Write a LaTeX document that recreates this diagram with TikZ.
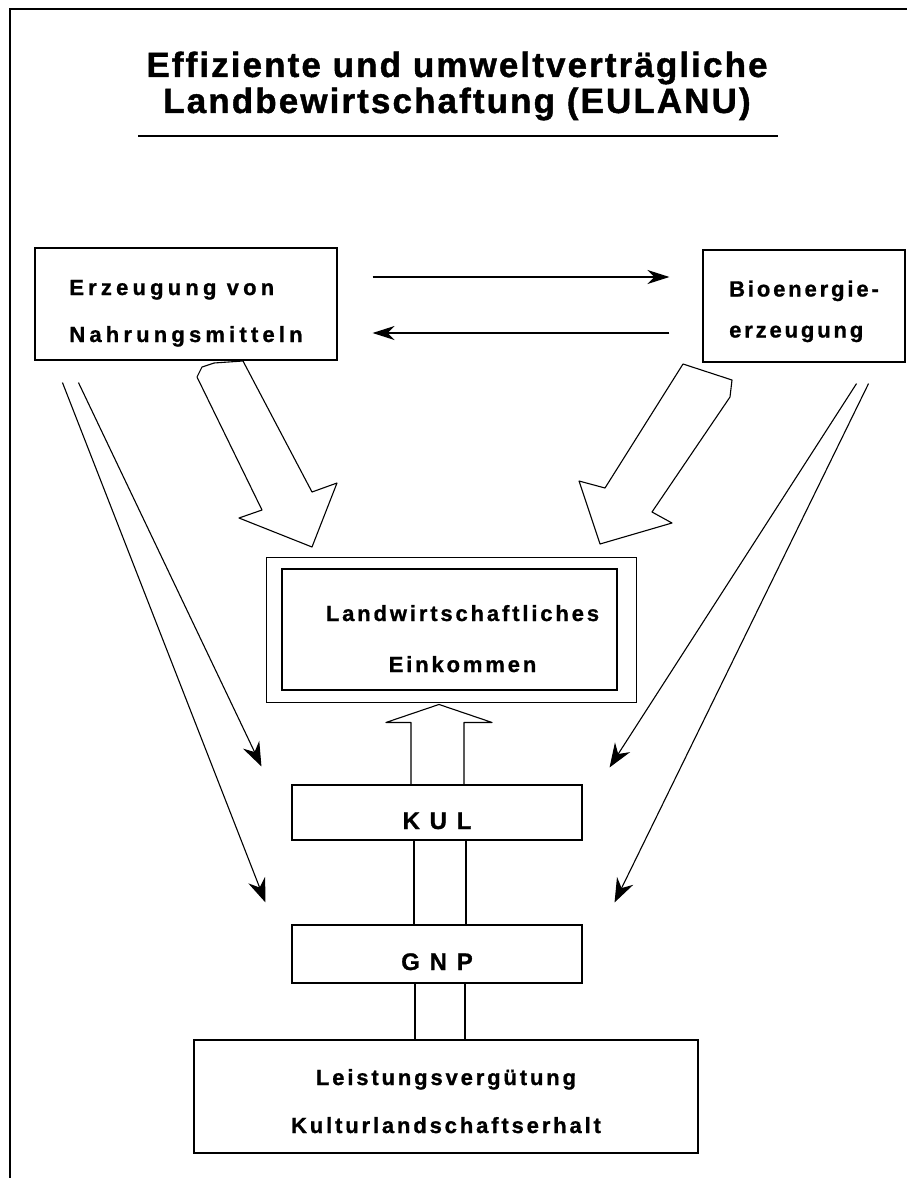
\documentclass[tikz,border=0pt]{standalone}
\usepackage{fontspec}
\setmainfont{Liberation Sans}
\newfontfamily\titlefont[LetterSpace=6,FakeBold=1.2]{Liberation Sans}
\newfontfamily\boxfont[LetterSpace=13,FakeBold=1]{Liberation Sans}
\newfontfamily\widefont[LetterSpace=19,FakeBold=1]{Liberation Sans}
\usetikzlibrary{arrows.meta,calc}

\begin{document}
\begin{tikzpicture}[x=1pt,y=-1pt,
	box/.style={draw,line width=1.1pt,inner sep=0pt,align=center,font=\boxfont\bfseries\fontsize{22}{48}\selectfont,text depth=0pt,text height=#1},
	box/.default=33pt,
	feed/.style={line width=1.1pt,-{Stealth[length=24pt,width=18pt,inset=8pt]}},
	flow/.style={line width=1.1pt,-{Stealth[length=22pt,width=14pt,inset=7pt]}},
	hollow/.style={line width=1.1pt,line join=round}]
	\useasboundingbox (0,0) rectangle (907,1178);
	\draw[line width=1.6pt] (907,9) -- (10,9) -- (10,1178);

	\node[align=center,font=\titlefont\bfseries\fontsize{35}{36}\selectfont] (title) at (457,86) {Effiziente und umweltverträgliche\\Landbewirtschaftung (EULANU)};
	\draw[line width=2pt] (138,136) -- (778,136);

	\node[box=76pt,align=left,font=\widefont\bfseries\fontsize{22}{47}\selectfont,minimum width=302pt,minimum height=112pt] (nahrung) at (186,304) {Erzeugung von\\Nahrungsmitteln};
	\node[box=63pt,align=left,font=\boxfont\bfseries\fontsize{22}{41}\selectfont,minimum width=202pt,minimum height=112pt] (bio) at (804,306) {Bioenergie-\\erzeugung};
	\node[box=85pt,font=\boxfont\bfseries\fontsize{22}{51}\selectfont,minimum width=335pt,minimum height=121pt] (einkommen) at (449.5,629.5) {\hspace*{26pt}Landwirtschaftliches\\\hspace*{26pt}Einkommen};
	\draw[line width=1.1pt] ($(einkommen.north west)+(-15,-11)$) rectangle ($(einkommen.south east)+(19,12)$);
	\node[box,font=\boxfont\bfseries\fontsize{24}{30}\selectfont,minimum width=290pt,minimum height=55pt] (kul) at (437,812.5) {K U L};
	\node[box=32pt,font=\boxfont\bfseries\fontsize{24}{30}\selectfont,minimum width=290pt,minimum height=58pt] (gnp) at (437,954) {G N P};
	\node[box=73pt,font=\boxfont\bfseries\fontsize{22}{48}\selectfont,minimum width=504pt,minimum height=113pt] (leistung) at (446,1096.5) {Leistungsvergütung\\Kulturlandschaftserhalt};

	\draw[flow] ($(nahrung.east)+(35,-27)$) -- ($(bio.west)+(-33,-29)$);
	\draw[flow] ($(bio.west)+(-33,27)$) -- ($(nahrung.east)+(35,29)$);

	\draw[feed] ($(nahrung.south west)+(44,22)$) -- ($(kul.north west)+(-30,-18)$);
	\draw[feed] ($(nahrung.south west)+(28,22)$) -- ($(gnp.north west)+(-26,-22)$);
	\draw[feed] ($(bio.south east)+(-49,21)$) -- ($(kul.north east)+(27,-17)$);
	\draw[feed] ($(bio.south east)+(-37,21)$) -- ($(gnp.north east)+(32,-22)$);

	\draw[hollow] (243,361) -- (312,492) -- (337,483) -- (312,547) -- (239,518) -- (262,510) -- (197,377) -- (202,367) -- (214,363) -- cycle;
	\draw[hollow] (683,364) -- (732,380) -- (730,397) -- (652,512) -- (672,523) -- (600,544) -- (579,481) -- (605,488) -- cycle;

	\draw[hollow,shift={(kul.north)}] (-26,0) -- (-26,-62) -- (-51,-62) -- (2,-80) -- (55,-62) -- (27,-62) -- (27,0);
	\draw[hollow] ($(kul.south)+(-23,0)$) -- ($(gnp.north)+(-23,0)$) ($(kul.south)+(29,0)$) -- ($(gnp.north)+(29,0)$);
	\draw[hollow] ($(gnp.south)+(-22,0)$) -- ($(leistung.north)+(-31,0)$) ($(gnp.south)+(28,0)$) -- ($(leistung.north)+(19,0)$);
\end{tikzpicture}
\end{document}
